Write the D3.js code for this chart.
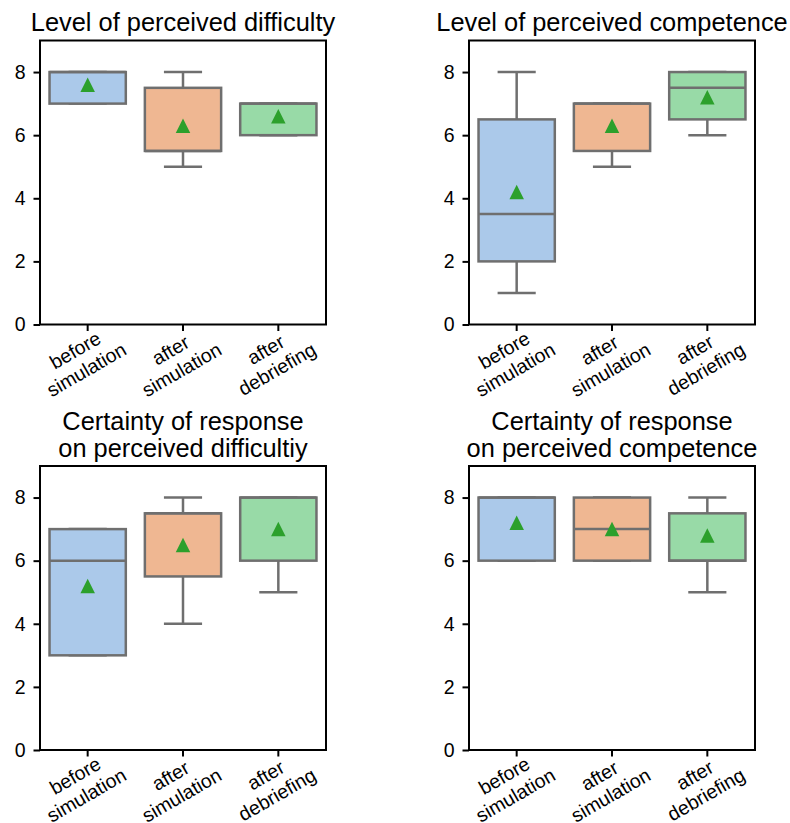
<!DOCTYPE html>
<html>
<head>
<meta charset="utf-8">
<script src="https://cdn.jsdelivr.net/npm/d3@7"></script>
<style>
  body { margin: 0; background: #fff; }
  text { font-family: "Liberation Sans", Arial, sans-serif; fill: #000; }
</style>
</head>
<body>
<svg id="chart" width="790" height="823"></svg>
<script>
// categories and panel titles
var groups = ["before\nsimulation", "after\nsimulation", "after\ndebriefing"];
var titles = [
  "Level of perceived difficulty",
  "Level of perceived competence",
  "Certainty of response\non perceived difficultiy",
  "Certainty of response\non perceived competence"
];
var yTicks = [0, 2, 4, 6, 8];

// box statistics, one row per panel, one value per group
var whiskerLow  = [[7, 5, 6],     [1, 5, 6],     [3, 4, 5],     [6, 6, 5]];
var quart1      = [[7, 5.5, 6],   [2, 5.5, 6.5], [3, 5.5, 6],   [6, 6, 6]];
var medians     = [[8, 5.5, 7],   [3.5, 7, 7.5], [6, 7.5, 8],   [8, 7, 6]];
var quart3      = [[8, 7.5, 7],   [6.5, 7, 8],   [7, 7.5, 8],   [8, 8, 7.5]];
var whiskerHigh = [[8, 8, 7],     [8, 7, 8],     [7, 8, 8],     [8, 8, 8]];
var means       = [[7.6, 6.3, 6.6], [4.2, 6.3, 7.2], [5.2, 6.5, 7.0], [7.2, 7.0, 6.8]];

var fills = ["#abc9ea", "#efb792", "#98daa7"];
var lineColor = "#6f6f6f";
var meanColor = "#2ca02c";

var tickFont = 19.5, titleFont = 25.4;
var lw = 2.5;

// panel frames [left, top, right, bottom]
var frames = [
  [40, 40.5, 326, 324.5],
  [469, 40.5, 755, 324.5],
  [40, 466, 326, 750],
  [469, 466, 755, 750]
];

var svg = d3.select("#chart");

frames.forEach(function(f, p) {
  var x = d3.scaleBand().domain(groups).range([f[0], f[2]]).padding(0);
  var y = d3.scaleLinear().domain([0, 9]).range([f[3], f[1]]);
  var bw = x.bandwidth() * 0.8;

  var g = svg.append("g");

  var rows = groups.map(function(k, i) {
    return { key: k, i: i, lo: whiskerLow[p][i], q1: quart1[p][i], med: medians[p][i],
             q3: quart3[p][i], hi: whiskerHigh[p][i], mean: means[p][i] };
  });

  var box = g.selectAll(".box").data(rows).enter().append("g").attr("class", "box");
  var cx = function(d) { return x(d.key) + x.bandwidth() / 2; };

  // whiskers
  box.append("line")
      .attr("x1", cx).attr("x2", cx)
      .attr("y1", function(d) { return y(d.q3); })
      .attr("y2", function(d) { return y(d.hi); })
      .attr("stroke", lineColor).attr("stroke-width", lw);
  box.append("line")
      .attr("x1", cx).attr("x2", cx)
      .attr("y1", function(d) { return y(d.q1); })
      .attr("y2", function(d) { return y(d.lo); })
      .attr("stroke", lineColor).attr("stroke-width", lw);
  // caps
  box.selectAll(".cap").data(function(d) { return [[d, d.lo], [d, d.hi]]; })
    .enter().append("line")
      .attr("x1", function(c) { return cx(c[0]) - bw / 4; })
      .attr("x2", function(c) { return cx(c[0]) + bw / 4; })
      .attr("y1", function(c) { return y(c[1]); })
      .attr("y2", function(c) { return y(c[1]); })
      .attr("stroke", lineColor).attr("stroke-width", lw);
  // box
  box.append("rect")
      .attr("x", function(d) { return cx(d) - bw / 2; })
      .attr("width", bw)
      .attr("y", function(d) { return y(d.q3); })
      .attr("height", function(d) { return y(d.q1) - y(d.q3); })
      .attr("fill", function(d) { return fills[d.i]; })
      .attr("stroke", lineColor).attr("stroke-width", lw);
  // median
  box.append("line")
      .attr("x1", function(d) { return cx(d) - bw / 2; })
      .attr("x2", function(d) { return cx(d) + bw / 2; })
      .attr("y1", function(d) { return y(d.med); })
      .attr("y2", function(d) { return y(d.med); })
      .attr("stroke", lineColor).attr("stroke-width", lw);
  // mean marker
  var s = 14.5;
  box.append("path")
      .attr("d", "M0," + (-s / 2) + "L" + (s / 2) + "," + (s / 2) + "L" + (-s / 2) + "," + (s / 2) + "Z")
      .attr("transform", function(d) { return "translate(" + cx(d) + "," + y(d.mean) + ")"; })
      .attr("fill", meanColor);

  // y axis
  var ya = g.append("g")
      .attr("transform", "translate(" + f[0] + ",0)")
      .call(d3.axisLeft(y).tickValues(yTicks).tickSize(6.5).tickSizeOuter(0).tickPadding(8));
  ya.select(".domain").remove();
  ya.selectAll(".tick line").attr("stroke", "#000").attr("stroke-width", 2);
  ya.selectAll(".tick text").style("font-size", tickFont + "px").attr("fill", "#000");

  // x axis
  var xa = g.append("g")
      .attr("transform", "translate(0," + f[3] + ")")
      .call(d3.axisBottom(x).tickSize(6.5).tickSizeOuter(0).tickFormat(""));
  xa.select(".domain").remove();
  xa.selectAll(".tick line").attr("stroke", "#000").attr("stroke-width", 2);
  xa.selectAll(".tick text").remove();

  // rotated two-line tick labels
  var lh = 1.15 * tickFont;
  groups.forEach(function(k) {
    var lines = k.split("\n");
    var outer = g.append("g");
    var inner = outer.append("g").attr("transform", "rotate(-30)");
    lines.forEach(function(t, j) {
      inner.append("text")
          .attr("text-anchor", "middle")
          .attr("y", (j - (lines.length - 1) / 2) * lh)
          .style("font-size", tickFont + "px")
          .text(t);
    });
    var bb = outer.node().getBBox();
    var tx = x(k) + x.bandwidth() / 2 - 7 - (bb.x + bb.width / 2);
    var ty = f[3] - 6 - bb.y;
    outer.attr("transform", "translate(" + tx + "," + ty + ")");
  });

  // frame
  g.append("rect")
      .attr("x", f[0]).attr("y", f[1])
      .attr("width", f[2] - f[0]).attr("height", f[3] - f[1])
      .attr("fill", "none").attr("stroke", "#000").attr("stroke-width", 2);

  // title
  var tl = titles[p].split("\n");
  tl.forEach(function(t, j) {
    g.append("text")
        .attr("x", (f[0] + f[2]) / 2)
        .attr("y", f[1] - 9.5 - (tl.length - 1 - j) * 26.9)
        .attr("text-anchor", "middle")
        .style("font-size", titleFont + "px")
        .text(t);
  });
});
</script>
</body>
</html>
